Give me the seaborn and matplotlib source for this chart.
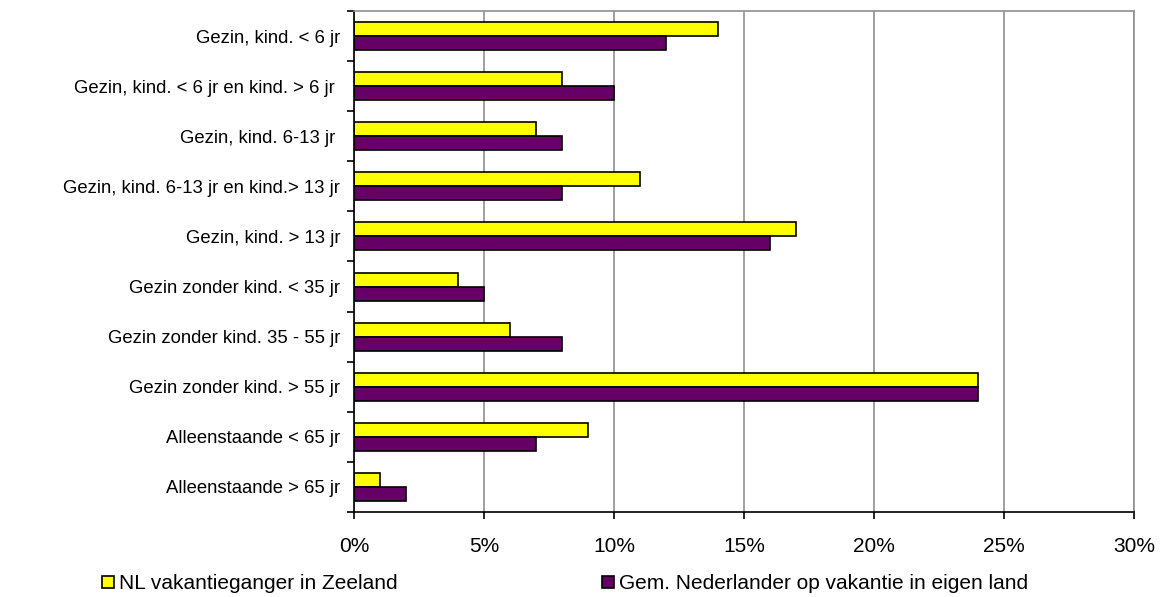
import numpy as np
import pandas as pd
import seaborn as sns
import matplotlib.pyplot as plt
from matplotlib.ticker import FuncFormatter, FixedLocator

# data
categories = [
    "Gezin, kind. < 6 jr",
    "Gezin, kind. < 6 jr en kind. > 6 jr ",
    "Gezin, kind. 6-13 jr ",
    "Gezin, kind. 6-13 jr en kind.> 13 jr",
    "Gezin, kind. > 13 jr",
    "Gezin zonder kind. < 35 jr",
    "Gezin zonder kind. 35 - 55 jr",
    "Gezin zonder kind. > 55 jr",
    "Alleenstaande < 65 jr",
    "Alleenstaande > 65 jr",
]
series_names = ["NL vakantieganger in Zeeland", "Gem. Nederlander op vakantie in eigen land"]
zeeland = [14, 8, 7, 11, 17, 4, 6, 24, 9, 1]
nederland = [12, 10, 8, 8, 16, 5, 8, 24, 7, 2]
x_ticks = [0, 5, 10, 15, 20, 25, 30]

df = pd.DataFrame({
    "categorie": categories * 2,
    "reeks": [series_names[0]] * len(categories) + [series_names[1]] * len(categories),
    "pct": zeeland + nederland,
})

sns.set_theme(style="white")
plt.rcParams["font.family"] = ["Liberation Sans", "DejaVu Sans"]
plt.rcParams["text.color"] = "black"
plt.rcParams["xtick.color"] = "black"
plt.rcParams["ytick.color"] = "black"

fs_y = 13.3
fs_x = 15
fs_leg = 15

fig = plt.figure(figsize=(11.63, 5.97), dpi=100)
ax = fig.add_axes([0.3044, 0.1424, 0.6706, 0.8392])

sns.barplot(data=df, y="categorie", x="pct", hue="reeks", order=categories,
            hue_order=series_names, palette=["#FFFF00", "#660066"],
            orient="h", width=0.56, edgecolor="black", linewidth=1.2,
            saturation=1, legend=True, ax=ax)

ax.set_xlim(0, 30)
ax.set_ylim(len(categories) - 0.5, -0.5)
ax.xaxis.set_major_locator(FixedLocator(x_ticks))
ax.xaxis.set_major_formatter(FuncFormatter(lambda v, p: f"{v:.0f}%"))
ax.grid(axis="x", color="#909090", linewidth=1.2)
ax.set_axisbelow(True)
ax.set_xlabel("")
ax.set_ylabel("")

# ticks between the categories on the y axis
ax.yaxis.set_minor_locator(FixedLocator(np.arange(-0.5, len(categories), 1.0)))
ax.tick_params(axis="y", which="major", length=0, labelsize=fs_y, pad=10)
ax.tick_params(axis="y", which="minor", left=True, length=5, width=1.2, color="black")
ax.tick_params(axis="x", which="major", bottom=True, length=5, width=1.2, color="black",
               labelsize=fs_x, pad=13)

for side in ["left", "bottom"]:
    ax.spines[side].set_color("black")
    ax.spines[side].set_linewidth(1.2)
for side in ["top", "right"]:
    ax.spines[side].set_color("#909090")
    ax.spines[side].set_linewidth(1.2)

handles, labels = ax.get_legend_handles_labels()
ax.get_legend().remove()
fig.legend(handles, labels, loc="center", bbox_to_anchor=(0.486, 0.022), ncol=2,
           frameon=False, fontsize=fs_leg, handlelength=0.58, handleheight=0.55,
           handletextpad=0.25, columnspacing=9.8, borderpad=0, borderaxespad=0)

fig.savefig("out.png", dpi=100)
